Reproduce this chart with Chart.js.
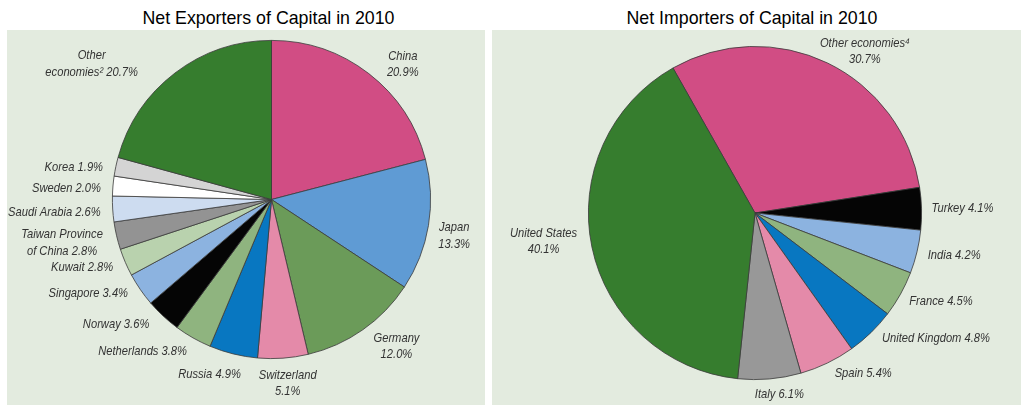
<!DOCTYPE html>
<html>
<head>
<meta charset="utf-8">
<script src="https://cdn.jsdelivr.net/npm/chart.js@4.4.0/dist/chart.umd.min.js"></script>
<style>
  body { margin: 0; width: 1021px; height: 405px; background: #fff; position: relative; overflow: hidden;
         font-family: "Liberation Sans", Arial, sans-serif; }
  .title { position: absolute; top: 7px; font-size: 17.8px; line-height: 22px; text-align: center; color: #000; }
  .panel { position: absolute; top: 30px; height: 375px; background: #e3ebdf; }
  canvas { display: block; }
</style>
</head>
<body>
<div class="title" style="left:0;width:537px">Net Exporters of Capital in 2010</div>
<div class="title" style="left:492px;width:520px">Net Importers of Capital in 2010</div>
<div class="panel" style="left:7px;width:478px"><canvas id="exporters" width="478" height="375"></canvas></div>
<div class="panel" style="left:492px;width:529px"><canvas id="importers" width="529" height="375"></canvas></div>
<script>
// Net exporters (percent of world total), clockwise from 12 o'clock
const exportNames = ["China", "Japan", "Germany", "Switzerland", "Russia", "Netherlands", "Norway",
  "Singapore", "Kuwait", "Taiwan Province\nof China", "Saudi Arabia", "Sweden", "Korea", "Other\neconomies²"];
const exportShares = [20.9, 13.3, 12.0, 5.1, 4.9, 3.8, 3.6, 3.4, 2.8, 2.8, 2.6, 2.0, 1.9, 20.7];

// Net importers, clockwise from "Other economies"
const importNames = ["Other economies⁴", "Turkey", "India", "France", "United Kingdom", "Spain", "Italy", "United States"];
const importShares = [30.7, 4.1, 4.2, 4.5, 4.8, 5.4, 6.1, 40.1];

// which labels put the percentage on its own line
const exportStacked = [true, true, true, true, false, false, false, false, false, false, false, false, false, false];
const importStacked = [true, false, false, false, false, false, false, true];

const exportColors = ["#d14d84", "#5f9bd4", "#6b9b59", "#e48aa9", "#0877c1", "#8fb47f", "#050505",
  "#8cb3e0", "#b9d2ae", "#939393", "#cddcf0", "#ffffff", "#d4d4d4", "#367d2e"];
const importColors = ["#d14d84", "#050505", "#8cb3e0", "#8fb47f", "#0877c1", "#e48aa9", "#989898", "#367d2e"];

// small hand nudges so labels sit where the original put them
const exportNudge = [[12, 12], [0, 6], [5, -5], [4, -1], [10, 3], [-1, -2], [-7, -5], [-4, -6],
  [-3, -2], [-4, 1], [-2, 2], [-2, 4], [-3, 4], [-31, 12]];
const importNudge = [[-12, 12], [0, 0], [1, -1], [0, -2], [4, -7], [3, -6], [9, -3], [-5, -11]];

function labelText(names, shares, stacked) {
  return names.map((n, i) => n + (stacked[i] ? "\n" : " ") + shares[i].toFixed(1) + "%");
}

// the original uses a narrow italic face; squeeze a regular one to match
const NARROW = 0.86;

const sliceLabels = {
  id: "sliceLabels",
  afterDatasetsDraw(chart, args, opts) {
    const ctx = chart.ctx;
    const meta = chart.getDatasetMeta(0);
    ctx.save();
    ctx.font = "italic 13px 'Liberation Sans', Arial, sans-serif";
    ctx.fillStyle = "#333";
    ctx.textBaseline = "middle";
    ctx.textAlign = "center";
    const lh = 16.5;
    meta.data.forEach((arc, i) => {
      const p = arc.getProps(["x", "y", "startAngle", "endAngle", "outerRadius"], true);
      const mid = (p.startAngle + p.endAngle) / 2;
      const ux = Math.cos(mid), uy = Math.sin(mid);
      const d = p.outerRadius + 10;
      const lines = opts.text[i].split("\n");
      const h = lines.length * lh;
      const w = Math.max(...lines.map(l => ctx.measureText(l).width)) * NARROW;
      let cx = p.x + ux * d, cy = p.y + uy * d + uy * h / 2;
      if (ux < -0.2) cx -= w / 2;
      else if (ux > 0.2) cx += w / 2;
      cx += opts.nudge[i][0];
      cy += opts.nudge[i][1];
      lines.forEach((l, k) => {
        ctx.save();
        ctx.translate(cx, cy - h / 2 + lh / 2 + k * lh);
        ctx.scale(NARROW, 1);
        ctx.fillText(l, 0, 0);
        ctx.restore();
      });
    });
    ctx.restore();
  }
};

function makePie(id, names, shares, colors, rotation, padding, text, nudge) {
  return new Chart(document.getElementById(id), {
    type: "pie",
    data: {
      labels: names,
      datasets: [{
        data: shares,
        backgroundColor: colors,
        borderColor: "#3a3a3a",
        borderWidth: 0.8
      }]
    },
    options: {
      responsive: false,
      animation: false,
      rotation: rotation,
      layout: { padding: padding },
      plugins: {
        legend: { display: false },
        tooltip: { enabled: false },
        sliceLabels: { text: text, nudge: nudge }
      }
    },
    plugins: [sliceLabels]
  });
}

makePie("exporters", exportNames, exportShares, exportColors, 0,
  { top: 10, bottom: 46, left: 105, right: 54 },
  labelText(exportNames, exportShares, exportStacked), exportNudge);

makePie("importers", importNames, importShares, importColors, -29.5,
  { top: 16, bottom: 25, left: 96, right: 99 },
  labelText(importNames, importShares, importStacked), importNudge);
</script>
</body>
</html>
